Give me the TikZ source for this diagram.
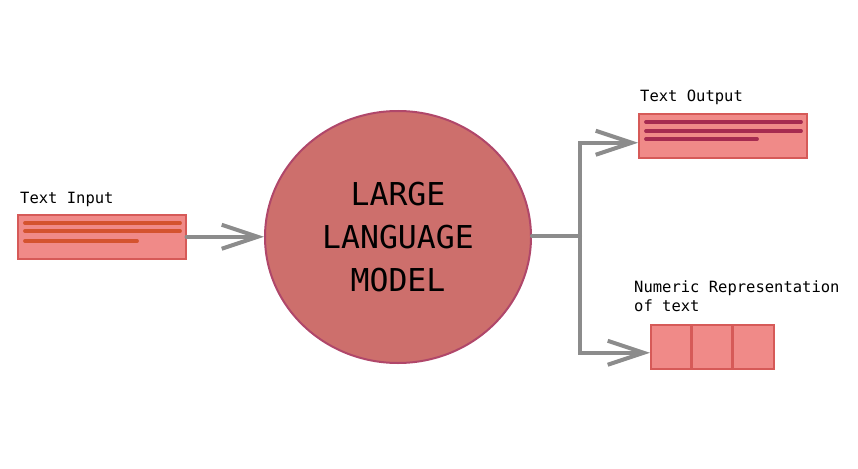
\documentclass[tikz,border=0pt]{standalone}
\usepackage{fontspec}
\setmonofont{DejaVu Sans Mono}
\usetikzlibrary{arrows.meta}
\usetikzlibrary{shapes.geometric}
\definecolor{boxfill}{HTML}{F08A88}
\definecolor{boxline}{HTML}{D65A58}
\definecolor{llmfill}{HTML}{CD6F6C}
\definecolor{llmline}{HTML}{B0476A}
\definecolor{intext}{HTML}{D4532F}
\definecolor{outtext}{HTML}{A62B50}
\definecolor{flow}{HTML}{8C8C8C}
\tikzset{
  textbox/.style={draw=boxline, fill=boxfill, line width=1.5pt,
    minimum width=168pt, minimum height=44pt, inner sep=0pt,
    anchor=north west},
  cell/.style={textbox, minimum width=41pt},
  caption/.style={anchor=base west, inner sep=0pt, align=left,
    font=\ttfamily\fontsize{15.5}{19}\selectfont},
  textline/.style={line width=3.8pt, line cap=round},
  flowline/.style={draw=flow, line width=4pt, line cap=round},
  flowarrow/.style={flowline, -{Straight Barb[length=36pt,width=24pt]}},
}

\begin{document}
\begin{tikzpicture}[x=1pt, y=-1pt]
    \useasboundingbox (0,0) rectangle (858,468);

    % input side
    \node [textbox] (input) at (17,214) {};
    \draw [textline, intext] (25,223) -- (180,223);
    \draw [textline, intext] (25,231) -- (180,231);
    \draw [textline, intext] (25,241) -- (137,241);
    \node [caption] (inlabel) at (20,203) {Text Input};

    \node [ellipse, draw=llmline, fill=llmfill, line width=2pt,
    minimum width=266pt, minimum height=252pt, align=center,
    font=\ttfamily\fontsize{31.5}{43}\selectfont] (llm) at (398,237)
    {LARGE\\LANGUAGE\\MODEL};

    \draw [flowarrow] (input.east) -- (llm.west |- input.east);

    % output side
    \node [textbox] (output) at (638,113) {};
    \draw [textline, outtext] (646,122) -- (801,122);
    \draw [textline, outtext] (646,131) -- (801,131);
    \draw [textline, outtext] (646,139) -- (757,139);
    \node [caption] (outlabel) at (640,102) {Text Output};

    \foreach \i in {0,1,2}
        \node [cell] (cell\i) at (650+41*\i,324) {};
    \draw [boxline, line width=3pt] (cell1.north west) -- (cell1.south west);
    \draw [boxline, line width=3pt] (cell2.north west) -- (cell2.south west);
    \node [caption] (numlabel) at (634,311)
    {Numeric Representation\\of text};

    \coordinate (split) at (580,236);
    \draw [flowline] (llm.east |- split) -- (split);
    \draw [flowarrow] (split) |- ([yshift=-7pt]output.west);
    \draw [flowarrow] (split) |- ([yshift=-6pt]cell0.west);

  \end{tikzpicture}
\end{document}
